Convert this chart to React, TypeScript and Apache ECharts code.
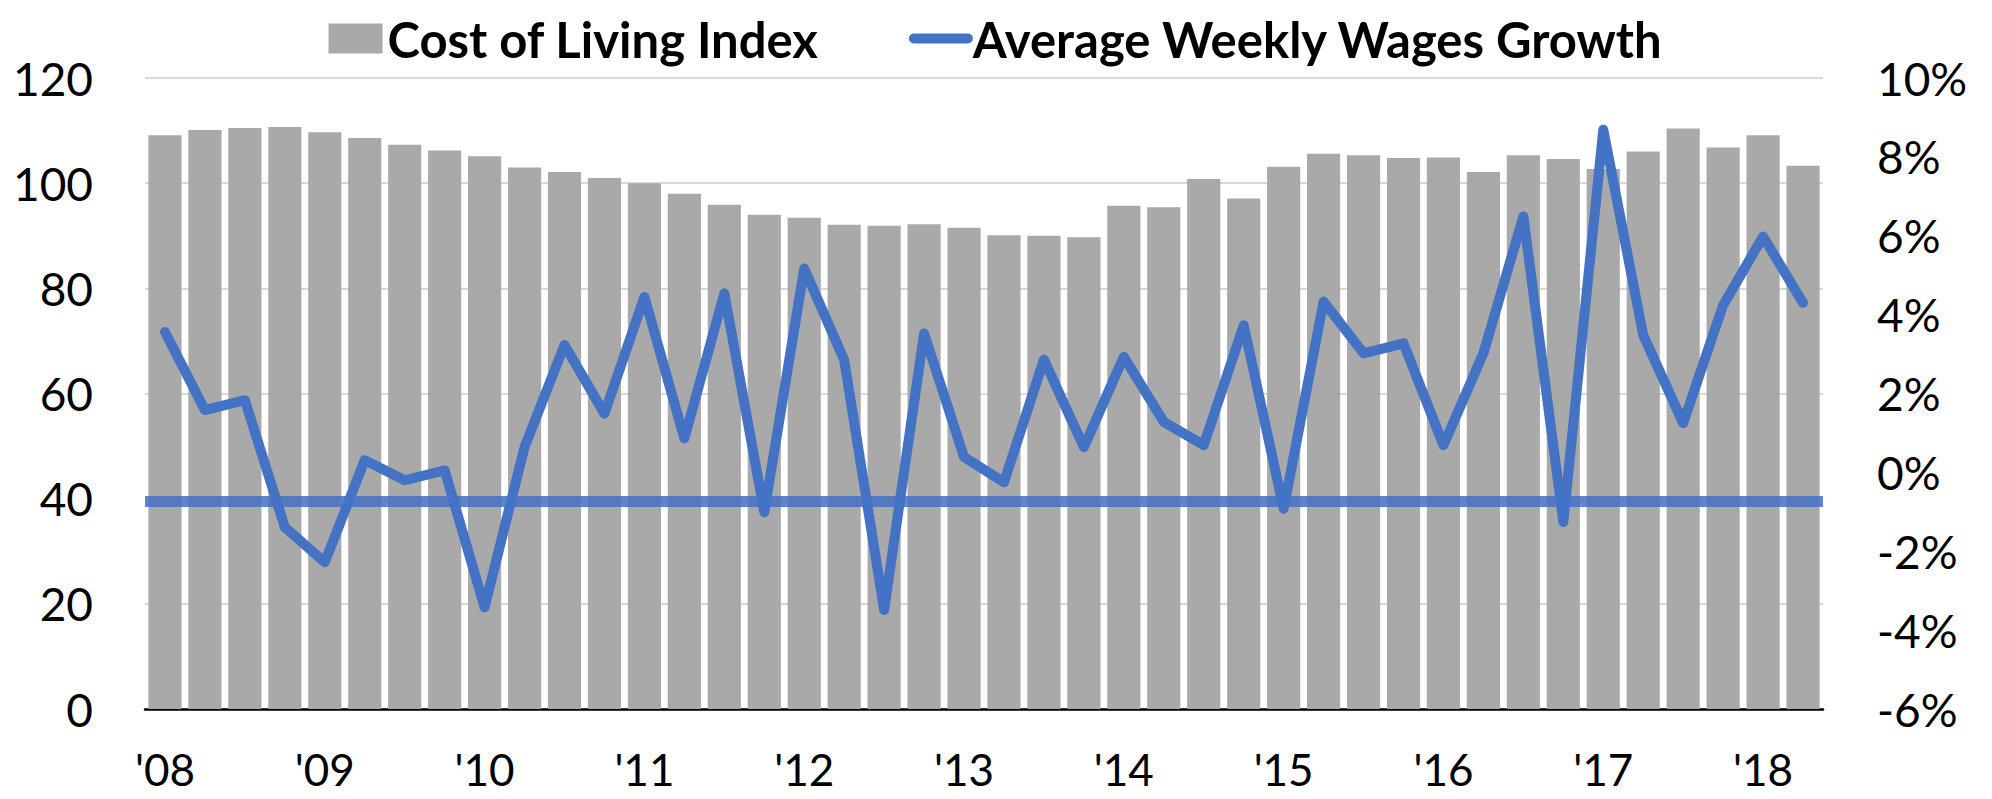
import React, { useEffect, useRef } from "react";
import * as echarts from "echarts";

const quarters: string[] = [
  "2008Q1", "2008Q2", "2008Q3", "2008Q4",
  "2009Q1", "2009Q2", "2009Q3", "2009Q4",
  "2010Q1", "2010Q2", "2010Q3", "2010Q4",
  "2011Q1", "2011Q2", "2011Q3", "2011Q4",
  "2012Q1", "2012Q2", "2012Q3", "2012Q4",
  "2013Q1", "2013Q2", "2013Q3", "2013Q4",
  "2014Q1", "2014Q2", "2014Q3", "2014Q4",
  "2015Q1", "2015Q2", "2015Q3", "2015Q4",
  "2016Q1", "2016Q2", "2016Q3", "2016Q4",
  "2017Q1", "2017Q2", "2017Q3", "2017Q4",
  "2018Q1", "2018Q2",
];

const costOfLivingIndex: number[] = [
  109.1, 110.1, 110.5, 110.7, 109.7, 108.6, 107.3, 106.2, 105.1, 103.0,
  102.1, 101.0, 100.0, 98.0, 95.9, 94.0, 93.4, 92.1, 91.9, 92.2,
  91.5, 90.1, 90.0, 89.7, 95.7, 95.4, 100.8, 97.1, 103.1, 105.6,
  105.3, 104.8, 104.9, 102.1, 105.3, 104.6, 102.7, 106.0, 110.4, 106.8,
  109.1, 103.3,
];

const wageGrowth: number[] = [
  3.56, 1.58, 1.83, -1.39, -2.28, 0.31, -0.2, 0.05, -3.42, 0.64,
  3.23, 1.49, 4.45, 0.86, 4.54, -1.01, 5.17, 2.85, -3.49, 3.52,
  0.39, -0.25, 2.86, 0.64, 2.93, 1.28, 0.69, 3.73, -0.92, 4.33,
  3.02, 3.27, 0.69, 3.02, 6.49, -1.26, 8.69, 3.48, 1.25, 4.24,
  5.98, 4.3,
];

const referenceLevel = -0.73;

const FONT = "Lato, 'Open Sans', sans-serif";
const BLUE = "#4472C4";

export default function App() {
  const ref = useRef<HTMLDivElement>(null);

  useEffect(() => {
    if (!ref.current) return;
    const chart = echarts.init(ref.current, null, { renderer: "svg" });
    chart.setOption({
      animation: false,
      backgroundColor: "#ffffff",
      textStyle: { fontFamily: FONT },
      legend: {
        top: 9,
        left: "center",
        itemWidth: 54,
        itemHeight: 30,
        itemGap: 90,
        textStyle: { fontFamily: FONT, fontSize: 49, fontWeight: "bold", color: "#000" },
        data: [
          { name: "Cost of Living Index", icon: "rect" },
          {
            name: "Average Weekly Wages Growth",
            itemStyle: { opacity: 0 },
            lineStyle: { color: BLUE, width: 10, cap: "round" },
          },
        ],
      },
      grid: { left: 145, right: 169, top: 78, bottom: 90, containLabel: false },
      xAxis: {
        type: "category",
        data: quarters,
        axisLine: { show: true, lineStyle: { color: "#000", width: 2.5 } },
        axisTick: { show: false },
        axisLabel: {
          interval: 3,
          margin: 38,
          fontFamily: FONT,
          fontSize: 44,
          color: "#000",
          formatter: (v: string) => "'" + v.slice(2, 4),
        },
      },
      yAxis: [
        {
          type: "value",
          min: 0,
          max: 120,
          interval: 20,
          axisLine: { show: false },
          axisTick: { show: false },
          splitLine: { lineStyle: { color: "#d9d9d9", width: 2 } },
          axisLabel: { margin: 52, fontFamily: FONT, fontSize: 46, color: "#000" },
        },
        {
          type: "value",
          min: -6,
          max: 10,
          interval: 2,
          axisLine: { show: false },
          axisTick: { show: false },
          splitLine: { show: false },
          axisLabel: {
            margin: 54,
            fontFamily: FONT,
            fontSize: 46,
            color: "#000",
            formatter: (v: number) => v + "%",
          },
        },
      ],
      series: [
        {
          name: "Cost of Living Index",
          type: "bar",
          data: costOfLivingIndex,
          yAxisIndex: 0,
          barCategoryGap: "17%",
          itemStyle: { color: "#a9a9a9" },
        },
        {
          name: "Average Weekly Wages Growth",
          type: "line",
          data: wageGrowth,
          yAxisIndex: 1,
          symbol: "none",
          showSymbol: false,
          lineStyle: { color: BLUE, width: 10, join: "round", cap: "round" },
          itemStyle: { color: BLUE },
          markLine: {
            silent: true,
            symbol: ["none", "none"],
            label: { show: false },
            lineStyle: { color: BLUE, width: 11, type: "solid", opacity: 0.85 },
            data: [{ yAxis: referenceLevel }],
          },
          z: 3,
        },
      ],
    });
    return () => chart.dispose();
  }, []);

  return (
    <div
      ref={ref}
      style={{ position: "fixed", left: 0, top: 0, width: 1992, height: 799 }}
    />
  );
}
